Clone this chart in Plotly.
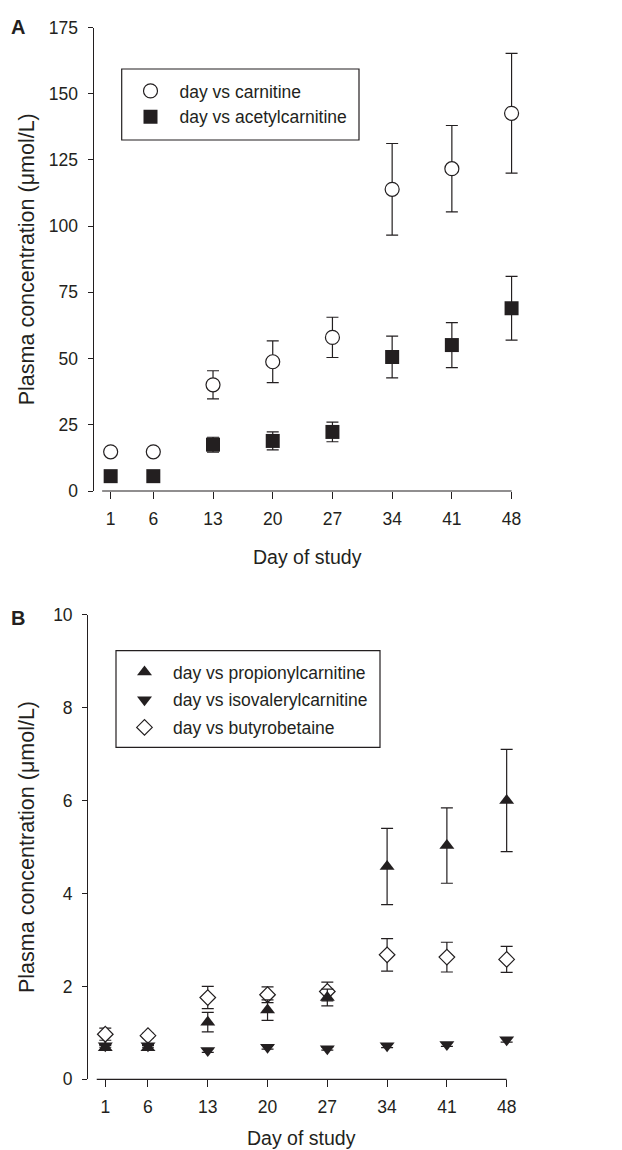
import plotly.graph_objects as go

days = [1, 6, 13, 20, 27, 34, 41, 48]

carnitine = [14.8, 14.8, 40.1, 48.8, 58.0, 113.9, 121.7, 142.6]
carnitine_err = [0.0, 0.0, 5.3, 7.9, 7.6, 17.3, 16.3, 22.6]
acetylcarnitine = [5.6, 5.6, 17.5, 18.9, 22.3, 50.6, 55.1, 69.0]
acetylcarnitine_err = [0.8, 0.8, 2.8, 3.4, 3.7, 7.9, 8.5, 12.0]

propionyl = [0.68, 0.68, 1.23, 1.49, 1.76, 4.58, 5.03, 6.00]
propionyl_err = [0.05, 0.05, 0.21, 0.22, 0.18, 0.82, 0.81, 1.10]
isovaleryl = [0.72, 0.72, 0.62, 0.69, 0.66, 0.72, 0.75, 0.85]
isovaleryl_err = [0.03, 0.03, 0.04, 0.04, 0.03, 0.04, 0.04, 0.05]
butyrobetaine = [0.97, 0.94, 1.76, 1.82, 1.89, 2.68, 2.63, 2.58]
butyrobetaine_err = [0.13, 0.05, 0.24, 0.17, 0.20, 0.35, 0.32, 0.28]

INK = "#231f20"
FONT = "Liberation Sans, Arial, sans-serif"
W, H = 622, 1150
TICK_SIZE = 17.5
LEG_SIZE = 17.5

def px_x(v):
    return v / W

def px_y(v):
    return 1 - v / H

def err(arr):
    return dict(type="data", array=arr, visible=True, color=INK, thickness=1.2, width=6)

fig = go.Figure()

# Panel A
fig.add_trace(go.Scatter(x=days, y=carnitine, mode="markers", name="day vs carnitine",
                         marker=dict(symbol="circle", size=14, color="white", line=dict(color=INK, width=1.2)),
                         error_y=err(carnitine_err), xaxis="x", yaxis="y", legend="legend", cliponaxis=False))
fig.add_trace(go.Scatter(x=days, y=acetylcarnitine, mode="markers", name="day vs acetylcarnitine",
                         marker=dict(symbol="square", size=14, color=INK, line=dict(color=INK, width=0)),
                         error_y=err(acetylcarnitine_err), xaxis="x", yaxis="y", legend="legend", cliponaxis=False))

# Panel B
fig.add_trace(go.Scatter(x=days, y=butyrobetaine, mode="markers", name="day vs butyrobetaine",
                         marker=dict(symbol="diamond", size=12, color="white", line=dict(color=INK, width=1.2)),
                         error_y=err(butyrobetaine_err), xaxis="x2", yaxis="y2", legend="legend2",
                         legendgroup="g3", legendrank=3, cliponaxis=False))
fig.add_trace(go.Scatter(x=days, y=isovaleryl, mode="markers", name="day vs isovalerylcarnitine",
                         marker=dict(symbol="triangle-down", size=13, color=INK, line=dict(width=0)),
                         error_y=err(isovaleryl_err), xaxis="x2", yaxis="y2", legend="legend2",
                         legendgroup="g2", legendrank=2, cliponaxis=False))
fig.add_trace(go.Scatter(x=days, y=propionyl, mode="markers", name="day vs propionylcarnitine",
                         marker=dict(symbol="triangle-up", size=13, color=INK, line=dict(width=0)),
                         error_y=err(propionyl_err), xaxis="x2", yaxis="y2", legend="legend2",
                         legendgroup="g1", legendrank=1, cliponaxis=False))

axis_common = dict(showgrid=False, zeroline=False, ticks="outside", tickcolor=INK, tickwidth=1.2,
                   automargin=False, tickfont=dict(family=FONT, size=TICK_SIZE, color=INK))

# plot area geometry (pixels)
A_x0, A_x1, A_top, A_bot = 93.6, 520.1, 27.5, 491.0
B_x0, B_x1, B_top, B_bot = 88.2, 515.2, 614.7, 1079.3

fig.update_layout(
    template="none",
    width=W, height=H, margin=dict(l=0, r=0, t=0, b=0, pad=0, autoexpand=False),
    paper_bgcolor="white", plot_bgcolor="white",
    font=dict(family=FONT, color=INK),
    xaxis=dict(axis_common, domain=[px_x(A_x0), px_x(A_x1)], range=[-1, 49], tickvals=days,
               showline=False, ticklen=7, anchor="y", ticklabelstandoff=5),
    yaxis=dict(axis_common, domain=[px_y(A_bot), px_y(A_top)], range=[0, 175], tickvals=[0, 25, 50, 75, 100, 125, 150, 175],
               showline=True, linecolor=INK, linewidth=1.2, ticklen=5, anchor="x", ticklabelstandoff=6),
    xaxis2=dict(axis_common, domain=[px_x(B_x0), px_x(B_x1)], range=[-1, 49], tickvals=days,
                showline=False, ticklen=7, anchor="y2", ticklabelstandoff=5),
    yaxis2=dict(axis_common, domain=[px_y(B_bot), px_y(B_top)], range=[0, 10], tickvals=[0, 2, 4, 6, 8, 10],
                showline=True, linecolor=INK, linewidth=1.2, ticklen=5, anchor="x2", ticklabelstandoff=6),
    legend=dict(x=px_x(121.5), y=px_y(73), xanchor="left", yanchor="top", bgcolor="rgba(0,0,0,0)",
                borderwidth=0, itemwidth=48, font=dict(family=FONT, size=LEG_SIZE, color=INK)),
    legend2=dict(x=px_x(116), y=px_y(654), xanchor="left", yanchor="top", bgcolor="rgba(0,0,0,0)",
                 borderwidth=0, itemwidth=47, traceorder="grouped", tracegroupgap=2,
                 font=dict(family=FONT, size=LEG_SIZE, color=INK)),
    showlegend=True,
)

shapes = [
    # x-axis lines (start at day 0, detached from y axis)
    dict(type="line", xref="x", yref="y domain", x0=0, x1=48, y0=0, y1=0, line=dict(color=INK, width=1.2)),
    dict(type="line", xref="x2", yref="y2 domain", x0=0, x1=48, y0=0, y1=0, line=dict(color=INK, width=1.2)),
    # legend boxes
    dict(type="rect", xref="paper", yref="paper", x0=px_x(121.7), x1=px_x(359), y0=px_y(140), y1=px_y(69),
         line=dict(color=INK, width=1.2), fillcolor="rgba(0,0,0,0)"),
    dict(type="rect", xref="paper", yref="paper", x0=px_x(116), x1=px_x(380), y0=px_y(747.3), y1=px_y(650.7),
         line=dict(color=INK, width=1.2), fillcolor="rgba(0,0,0,0)"),
]
fig.update_layout(shapes=shapes)

def note(text, x, y, size, angle=0):
    return dict(text=text, x=px_x(x), y=px_y(y), xref="paper", yref="paper", showarrow=False,
                xanchor="center", yanchor="middle", textangle=angle,
                font=dict(family=FONT, size=size, color=INK))

ann = [
    note("<b>A</b>", 18, 27, 20),
    note("<b>B</b>", 18, 618, 20),
    note("Plasma concentration (\u03bcmol/L)", 27, (A_top + A_bot) / 2, 21.5, -90),
    note("Plasma concentration (\u03bcmol/L)", 27, (B_top + B_bot) / 2, 21.5, -90),
    note("Day of study", 307, 557, 19.5),
    note("Day of study", 301.5, 1138, 19.5),
]
fig.update_layout(annotations=ann)

fig.write_html("out.html", config={"displayModeBar": False},
               post_script="document.body.style.margin='0px';document.body.style.padding='0px';")
